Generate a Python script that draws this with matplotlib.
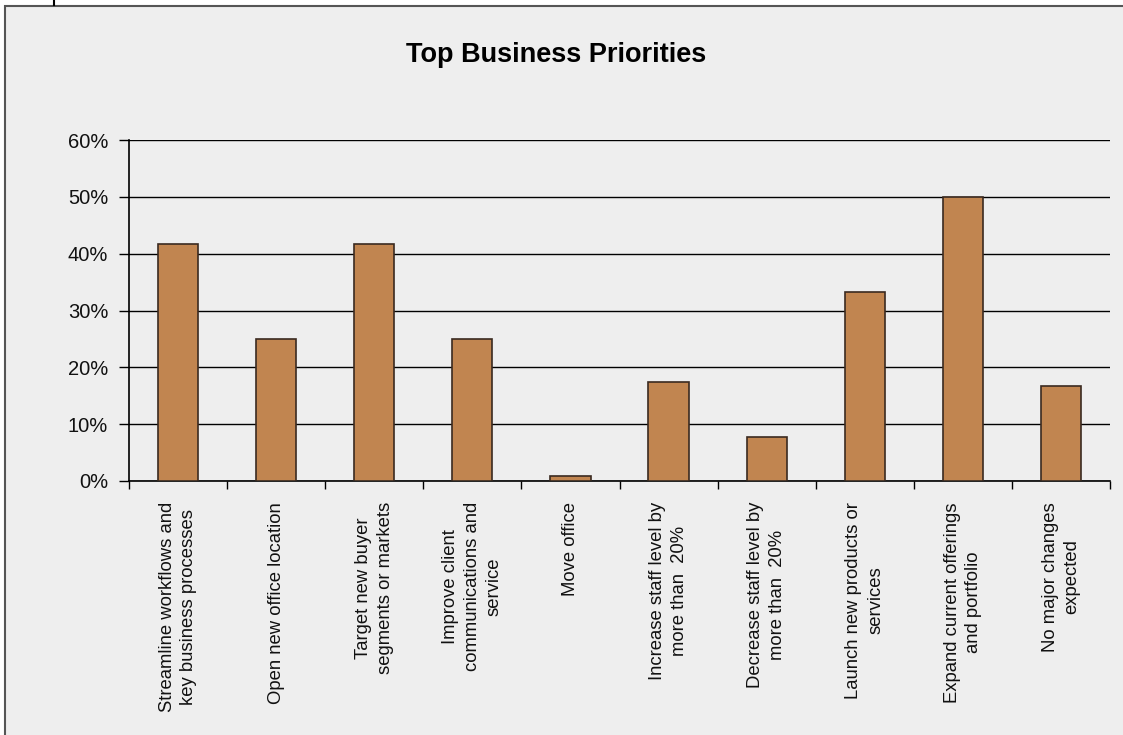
import numpy as np
import matplotlib.pyplot as plt
from matplotlib.patches import Rectangle
from matplotlib.lines import Line2D
from matplotlib.ticker import FuncFormatter, FixedLocator

plt.rcParams['font.family'] = ['Liberation Sans', 'DejaVu Sans']

# Datos de la encuesta
categorias = [
    "Streamline workflows and\nkey business processes",
    "Open new office location",
    "Target new buyer\nsegments or markets",
    "Improve client\ncommunications and\nservice",
    "Move office",
    "Increase staff level by\nmore than  20%",
    "Decrease staff level by\nmore than  20%",
    "Launch new products or\nservices",
    "Expand current offerings\nand portfolio",
    "No major changes\nexpected",
]
porcentajes = [0.417, 0.25, 0.417, 0.25, 0.009, 0.174, 0.078, 0.333, 0.50, 0.167]

W, H = 1123, 735
fig = plt.figure(figsize=(W / 100, H / 100), dpi=100, facecolor='white')

# Panel gris de fondo con borde
fig.patches.append(Rectangle((5 / W, -0.1), 1.2, 1.1 - 6 / H, transform=fig.transFigure,
                             facecolor='#eeeeee', edgecolor='#555555', lw=1.5, zorder=-10))
fig.lines.append(Line2D([54 / W, 54 / W], [1, 1 - 5 / H], transform=fig.transFigure,
                        color='black', lw=1.5))

ax = fig.add_axes([129 / W, (H - 481) / H, 981 / W, 341 / H])
ax.set_facecolor('none')

x = np.arange(len(categorias))
ax.bar(x, porcentajes, width=0.41, color='#c18550', edgecolor='#3a2a20', lw=1.2, zorder=3)

ax.set_xlim(-0.5, len(categorias) - 0.5)
ax.set_ylim(0, 0.6)
ax.set_yticks(np.arange(0, 0.61, 0.1))
ax.yaxis.set_major_formatter(FuncFormatter(lambda v, _: f"{v * 100:.0f}%"))
ax.grid(axis='y', color='black', lw=1, zorder=1)

# Marcas del eje x en los límites entre categorías
ax.set_xticks(x)
ax.set_xticklabels([])
ax.tick_params(axis='x', which='major', length=0)
ax.xaxis.set_minor_locator(FixedLocator(np.arange(-0.5, len(categorias), 1.0)))
ax.tick_params(axis='x', which='minor', length=6, width=1, color='black', direction='out')
ax.tick_params(axis='y', length=7, width=1, color='black', pad=8, labelsize=14.5,
               labelcolor='#111111')

for xi, etiqueta in zip(x, categorias):
    ax.text(xi, -0.037, etiqueta, rotation=90, ha='center', va='top',
            multialignment='center', fontsize=13.3, color='#111111', linespacing=1.35)

for lado in ['top', 'right']:
    ax.spines[lado].set_visible(False)
for lado in ['left', 'bottom']:
    ax.spines[lado].set_color('black')
    ax.spines[lado].set_linewidth(1.2)

fig.text(556 / W, 1 - 55 / H, 'Top Business Priorities', ha='center', va='center',
         fontsize=19.5, fontweight='bold')

fig.savefig('out.png', dpi=100, facecolor='white')
